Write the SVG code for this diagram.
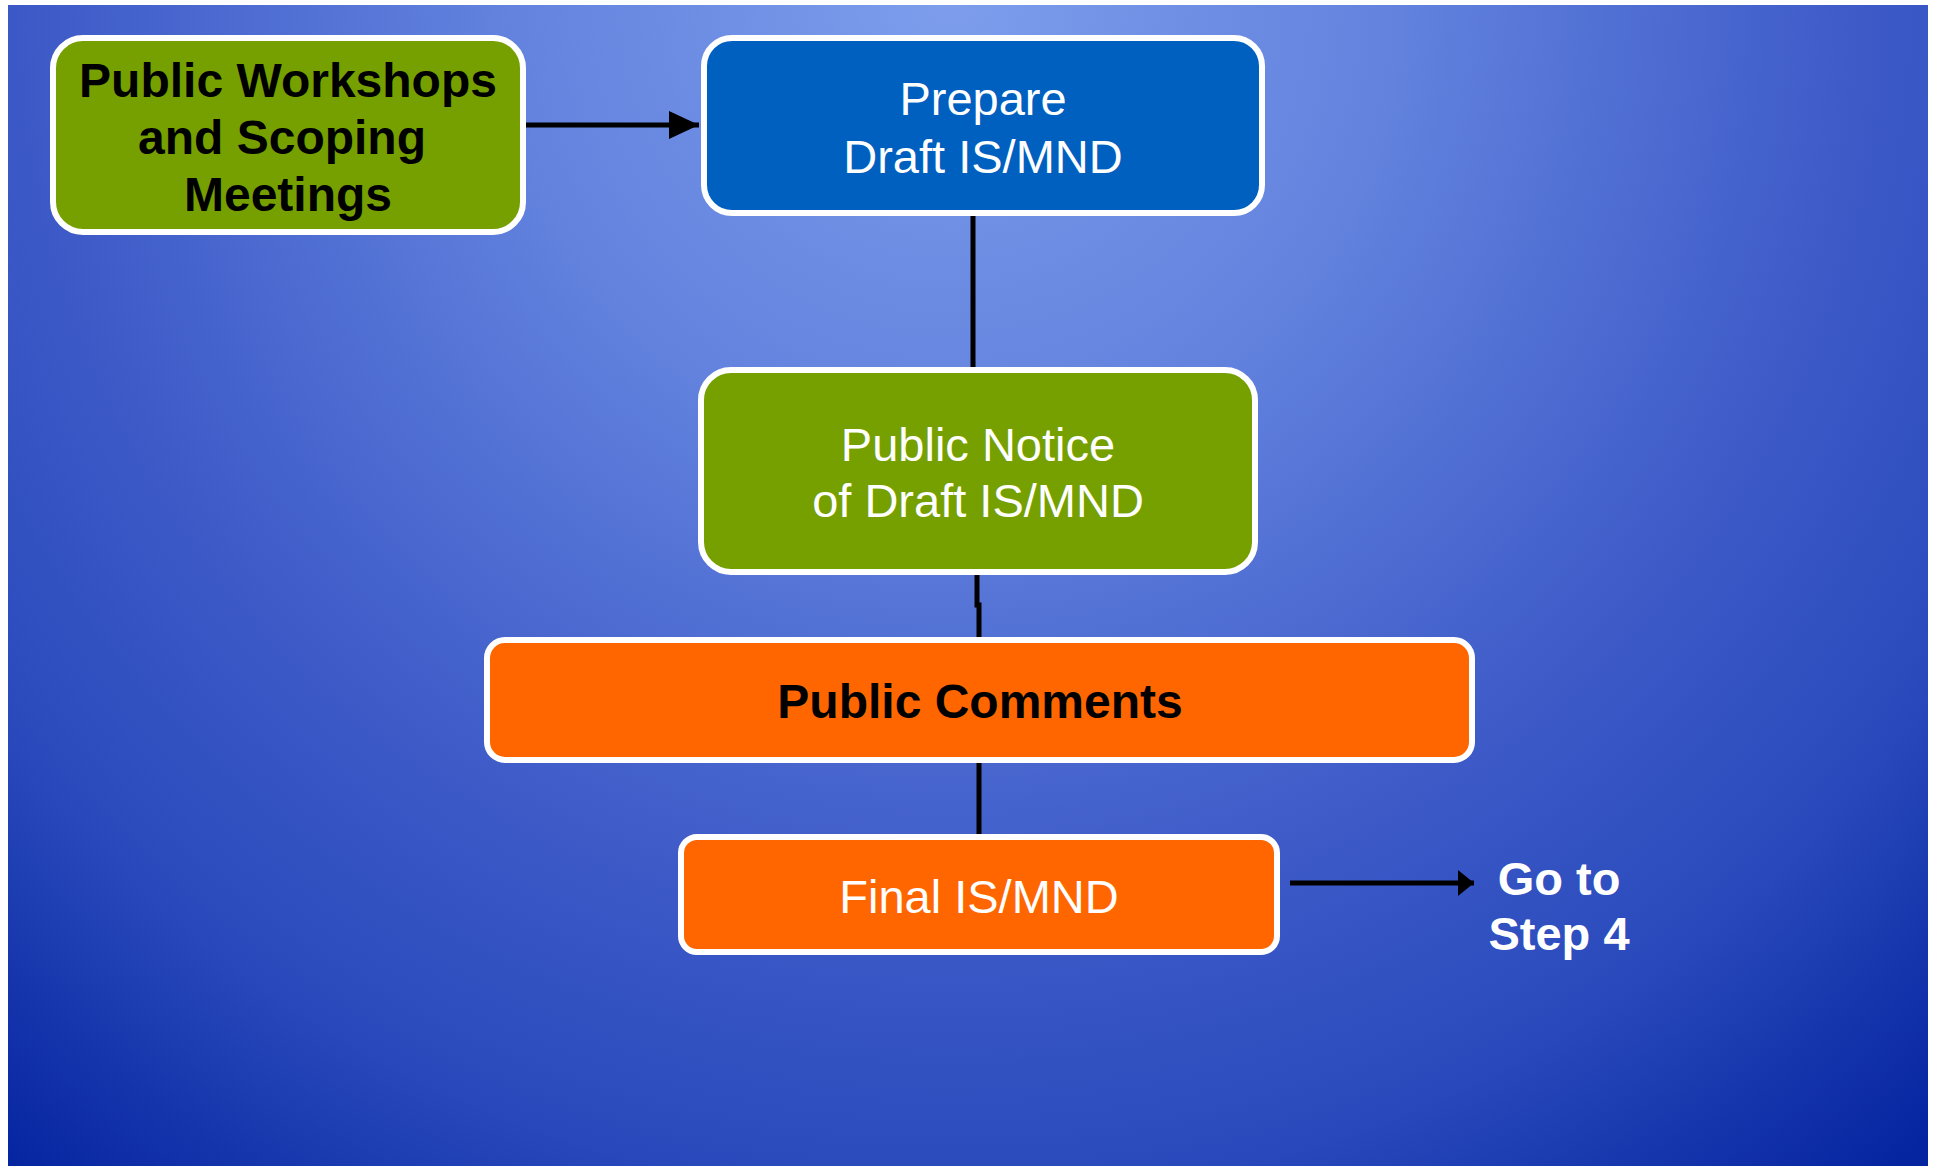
<svg xmlns="http://www.w3.org/2000/svg" width="1937" height="1166" viewBox="0 0 1937 1166">
  <defs>
    <radialGradient id="bg" gradientUnits="userSpaceOnUse" cx="950" cy="0" r="1500">
      <stop offset="0" stop-color="#7d9dec"/>
      <stop offset="0.3" stop-color="#6282de"/>
      <stop offset="0.6" stop-color="#3e5bc8"/>
      <stop offset="0.78" stop-color="#2b4bbd"/>
      <stop offset="1" stop-color="#0524a0"/>
    </radialGradient>
    <marker id="ah" markerWidth="16" markerHeight="26" refX="16" refY="13" orient="auto" markerUnits="userSpaceOnUse">
      <path d="M0,0 L16,13 L0,26 Z" fill="#000"/>
    </marker>
    <marker id="ah2" markerWidth="30" markerHeight="30" refX="30" refY="15" orient="auto" markerUnits="userSpaceOnUse">
      <path d="M0,1 L30,15 L0,29 Z" fill="#000"/>
    </marker>
    <style>
      .box { stroke: #ffffff; stroke-width: 6; }
      .green { fill: #76a000; }
      .blue { fill: #0060c0; }
      .orange { fill: #ff6600; }
      .reg { font-family: "Liberation Sans", Arial, sans-serif; font-size: 47px; fill: #ffffff; text-anchor: middle; }
      .bold { font-family: "Liberation Sans", Arial, sans-serif; font-weight: bold; font-size: 48px; fill: #000000; text-anchor: middle; }
      .wbold { font-family: "Liberation Sans", Arial, sans-serif; font-weight: bold; font-size: 47px; fill: #ffffff; text-anchor: middle; }
      .conn { stroke: #000; stroke-width: 5; fill: none; }
    </style>
  </defs>
  <rect x="0" y="0" width="1937" height="1166" fill="#ffffff"/>
  <rect x="8" y="5" width="1920" height="1161" fill="url(#bg)"/>

  <g id="connectors">
    <line class="conn" x1="526" y1="125" x2="699" y2="125" marker-end="url(#ah2)"/>
    <line class="conn" x1="973" y1="216" x2="973" y2="367"/>
    <path class="conn" d="M977,575 L977,605 L979,605 L979,637"/>
    <line class="conn" x1="979" y1="763" x2="979" y2="834"/>
    <line class="conn" x1="1290" y1="883" x2="1474" y2="883" marker-end="url(#ah)"/>
  </g>

  <g id="workshops">
    <rect class="box green" x="53" y="38" width="470" height="194" rx="30"/>
    <text class="bold" x="288" y="97">Public Workshops</text>
    <text class="bold" x="282" y="154">and Scoping</text>
    <text class="bold" x="288" y="211">Meetings</text>
  </g>

  <g id="prepare">
    <rect class="box blue" x="704" y="38" width="558" height="175" rx="28"/>
    <text class="reg" x="983" y="115">Prepare</text>
    <text class="reg" x="983" y="173">Draft IS/MND</text>
  </g>

  <g id="notice">
    <rect class="box green" x="701" y="370" width="554" height="202" rx="30"/>
    <text class="reg" x="978" y="461">Public Notice</text>
    <text class="reg" x="978" y="517">of Draft IS/MND</text>
  </g>

  <g id="comments">
    <rect class="box orange" x="487" y="640" width="985" height="120" rx="18"/>
    <text class="bold" x="980" y="718">Public Comments</text>
  </g>

  <g id="final">
    <rect class="box orange" x="681" y="837" width="596" height="115" rx="16"/>
    <text class="reg" x="979" y="913">Final IS/MND</text>
  </g>

  <g id="goto">
    <text class="wbold" x="1559" y="895">Go to</text>
    <text class="wbold" x="1559" y="950">Step 4</text>
  </g>
</svg>
